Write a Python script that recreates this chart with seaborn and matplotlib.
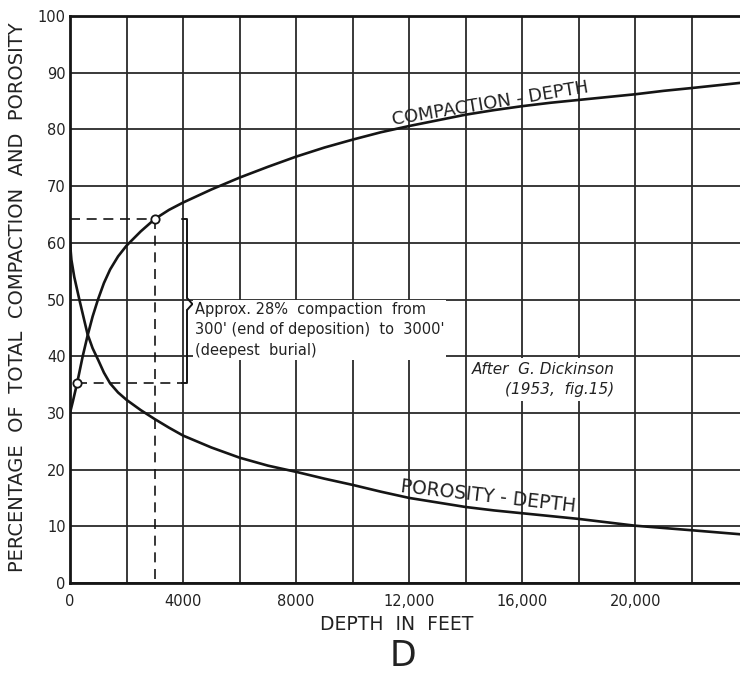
import numpy as np
import pandas as pd
import matplotlib
matplotlib.use("Agg")
import matplotlib.pyplot as plt
import seaborn as sns

# ---- data ----
compaction_depth = [0, 100, 250, 450, 620, 800, 990, 1200, 1420, 1700, 2000, 2500, 3000,
                    3500, 4000, 5000, 6000, 7000, 8000, 9000, 10000, 11000, 12000, 13000,
                    14000, 15000, 16000, 17000, 18000, 19000, 20000, 21000, 22000, 23700]
compaction_pct = [30, 32, 35.2, 40, 43.6, 47, 50, 52.9, 55.3, 57.6, 59.5, 62.0, 64.2,
                  65.8, 67.1, 69.4, 71.5, 73.4, 75.2, 76.8, 78.2, 79.5, 80.6, 81.6,
                  82.6, 83.4, 84.1, 84.7, 85.2, 85.7, 86.2, 86.8, 87.3, 88.2]

porosity_depth = [0, 50, 150, 330, 620, 800, 1000, 1200, 1420, 1700, 2000, 2500, 3000,
                  3500, 4000, 5000, 6000, 7000, 8000, 9000, 10000, 11000, 12000, 13000,
                  14000, 15000, 16000, 17000, 18000, 19000, 20000, 21000, 22000, 23700]
porosity_pct = [60, 57, 54, 50, 43.9, 41.4, 39.3, 37.1, 35.2, 33.6, 32.3, 30.5, 28.9,
                27.4, 26.0, 23.9, 22.1, 20.7, 19.6, 18.4, 17.3, 16.1, 15.0, 14.2,
                13.4, 12.8, 12.3, 11.8, 11.3, 10.7, 10.1, 9.7, 9.3, 8.6]

x_ticks = [0, 2000, 4000, 6000, 8000, 10000, 12000, 14000, 16000, 18000, 20000, 22000]
x_tick_labels = ["0", "", "4000", "", "8000", "", "12,000", "", "16,000", "", "20,000", ""]
y_ticks = [0, 10, 20, 30, 40, 50, 60, 70, 80, 90, 100]

burial_point = (3000, 64.2)
deposition_point = (250, 35.2)
bracket_x = 4150

df = pd.concat([
    pd.DataFrame({"depth": compaction_depth, "pct": compaction_pct, "curve": "COMPACTION-DEPTH"}),
    pd.DataFrame({"depth": porosity_depth, "pct": porosity_pct, "curve": "POROSITY-DEPTH"}),
])

sns.set_theme(style="white")
plt.rcParams["font.family"] = ["DejaVu Sans"]

fig = plt.figure(figsize=(7.4, 6.75), dpi=100)
ax = fig.add_axes([70 / 740, 92 / 675, 670 / 740, 567 / 675])

ink = "#151515"
txt = "#222222"
sns.lineplot(data=df, x="depth", y="pct", hue="curve", palette=[ink, ink],
             linewidth=1.9, legend=False, ax=ax, zorder=4, sort=False)

ax.set_xlim(0, 23700)
ax.set_ylim(0, 100)
ax.set_xticks(x_ticks)
ax.set_xticklabels(x_tick_labels)
ax.set_yticks(y_ticks)
ax.grid(True, color="#2a2a2a", linewidth=1.3, zorder=0)
ax.set_axisbelow(True)
for side in ["left", "bottom", "top"]:
    ax.spines[side].set_visible(True)
    ax.spines[side].set_color(ink)
    ax.spines[side].set_linewidth(2.0)
ax.spines["right"].set_visible(False)
ax.tick_params(axis="both", length=0, colors=txt, labelsize=10.5)
ax.tick_params(axis="x", pad=8)
ax.tick_params(axis="y", pad=3)

ax.set_xlabel("DEPTH  IN  FEET", fontsize=13.5, color=txt, va="center")
ax.xaxis.set_label_coords((397 / 740 - 70 / 740) / (670 / 740), -(625 - 583) / 567)
ax.set_ylabel("PERCENTAGE  OF  TOTAL  COMPACTION  AND  POROSITY", fontsize=14,
              color=txt, va="center")
ax.yaxis.set_label_coords(-(70 - 18) / 670, (583 - 297) / 567)

# dashed guide lines
dash = dict(color=ink, linewidth=1.2, linestyle=(0, (6, 4)), zorder=3)
ax.plot([0, burial_point[0]], [burial_point[1], burial_point[1]], **dash)
ax.plot([burial_point[0], burial_point[0]], [burial_point[1], 0], **dash)
ax.plot([deposition_point[0], bracket_x - 200], [deposition_point[1], deposition_point[1]], **dash)

# circles
ax.plot([burial_point[0], deposition_point[0]], [burial_point[1], deposition_point[1]],
        linestyle="none", marker="o", markersize=6, markerfacecolor="white",
        markeredgecolor=ink, markeredgewidth=1.3, zorder=5)

# bracket
bk = dict(color=ink, linewidth=1.4, zorder=3)
ax.plot([bracket_x - 200, bracket_x, bracket_x], [burial_point[1], burial_point[1], 50.2], **bk)
ax.plot([bracket_x, bracket_x, bracket_x - 200], [48.2, deposition_point[1], deposition_point[1]], **bk)
ax.plot([bracket_x, bracket_x + 180, bracket_x], [50.2, 49.2, 48.2], **bk)

ax.text(4420, 49.6, "Approx. 28%  compaction  from\n300' (end of deposition)  to  3000'\n(deepest  burial)",
        fontsize=10.5, color=txt, va="top", ha="left", linespacing=1.45, zorder=6,
        bbox=dict(facecolor="white", edgecolor="none", pad=1.5))

ax.text(19250, 39.0, "After  G. Dickinson\n(1953,  fig.15)", fontsize=11, style="italic",
        color=txt, va="top", ha="right", multialignment="right", linespacing=1.4,
        zorder=6, bbox=dict(facecolor="white", edgecolor="none", pad=3))

ax.text(14870, 84.6, "COMPACTION - DEPTH", fontsize=13, rotation=9.5, color=txt,
        ha="center", va="center", rotation_mode="anchor", zorder=6)
ax.text(14800, 15.3, "POROSITY - DEPTH", fontsize=13.5, rotation=-6.5, color=txt,
        ha="center", va="center", rotation_mode="anchor", zorder=6)

fig.text(403 / 740, 2 / 675, "D", fontsize=25, ha="center", va="bottom",
         color=txt)

fig.savefig("out.png", dpi=100, facecolor="white")
